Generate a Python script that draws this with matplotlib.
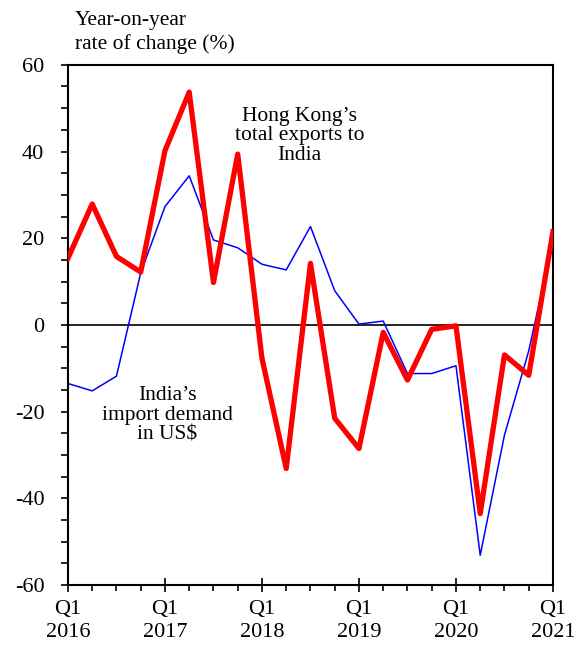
import numpy as np
import matplotlib.pyplot as plt
from matplotlib.ticker import MultipleLocator, FixedLocator

plt.rcParams['font.family'] = ['Liberation Serif', 'DejaVu Serif']
plt.rcParams['axes.unicode_minus'] = False

# quarters Q1 2016 .. Q1 2021
quarters = ['2016Q1', '2016Q2', '2016Q3', '2016Q4',
            '2017Q1', '2017Q2', '2017Q3', '2017Q4',
            '2018Q1', '2018Q2', '2018Q3', '2018Q4',
            '2019Q1', '2019Q2', '2019Q3', '2019Q4',
            '2020Q1', '2020Q2', '2020Q3', '2020Q4',
            '2021Q1']

# Hong Kong's total exports to India (red)
hk_exports = [15.4, 27.9, 15.8, 12.2,
              40.2, 53.7, 9.8, 39.4,
              -7.7, -33.1, 14.2, -21.5,
              -28.5, -1.7, -12.7, -1.0,
              -0.2, -43.5, -6.9, -11.6,
              21.5]

# India's import demand in US$ (blue)
india_imports = [-13.5, -15.2, -11.8, 12.0,
                 27.3, 34.4, 19.6, 17.8,
                 14.0, 12.7, 22.7, 7.9,
                 0.2, 0.9, -11.2, -11.2,
                 -9.4, -53.1, -25.4, -6.0,
                 19.5]

year_labels = ['Q1\n2016', 'Q1\n2017', 'Q1\n2018', 'Q1\n2019', 'Q1\n2020', 'Q1\n2021']

x = np.arange(len(quarters))

fig = plt.figure(figsize=(5.76, 6.48), dpi=100)
ax = fig.add_axes([0.118, 0.097, 0.842, 0.803])

ax.axhline(0, color='black', lw=1.2, zorder=1)
ax.plot(x, india_imports, color='#0000ff', lw=1.1, zorder=2)
ax.plot(x, hk_exports, color='#ff0000', lw=3.8, zorder=3)

ax.set_xlim(0, len(quarters) - 1)
ax.set_ylim(-60, 60)

# y axis: major every 20, minor every 5
ax.yaxis.set_major_locator(MultipleLocator(20))
ax.yaxis.set_minor_locator(MultipleLocator(5))
ax.tick_params(axis='y', which='both', direction='out', length=5, width=1.2, labelsize=16, pad=12)

# x axis: Q1 of each year major, quarters minor
ax.xaxis.set_major_locator(FixedLocator(x[::4]))
ax.xaxis.set_minor_locator(FixedLocator(x))
ax.set_xticklabels(year_labels)
ax.tick_params(axis='x', which='major', direction='inout', length=10, width=1.2, labelsize=16, pad=6)
ax.tick_params(axis='x', which='minor', direction='out', length=4, width=1.2)
for lab in ax.get_xticklabels():
    lab.set_linespacing(1.25)

for sp in ax.spines.values():
    sp.set_linewidth(1.5)

fig.text(0.13, 0.969, 'Year-on-year', fontsize=15.5, ha='left', va='center')
fig.text(0.13, 0.932, 'rate of change (%)', fontsize=15.5, ha='left', va='center')

ax.text(9.55, 43.6, 'Hong Kong\u2019s\ntotal exports to\nIndia', fontsize=15.5,
        ha='center', va='center', linespacing=1.05)
ax.text(4.1, -20.8, 'India\u2019s\nimport demand\nin US$', fontsize=15.5,
        ha='center', va='center', linespacing=1.05)

fig.savefig('out.png', dpi=100)
